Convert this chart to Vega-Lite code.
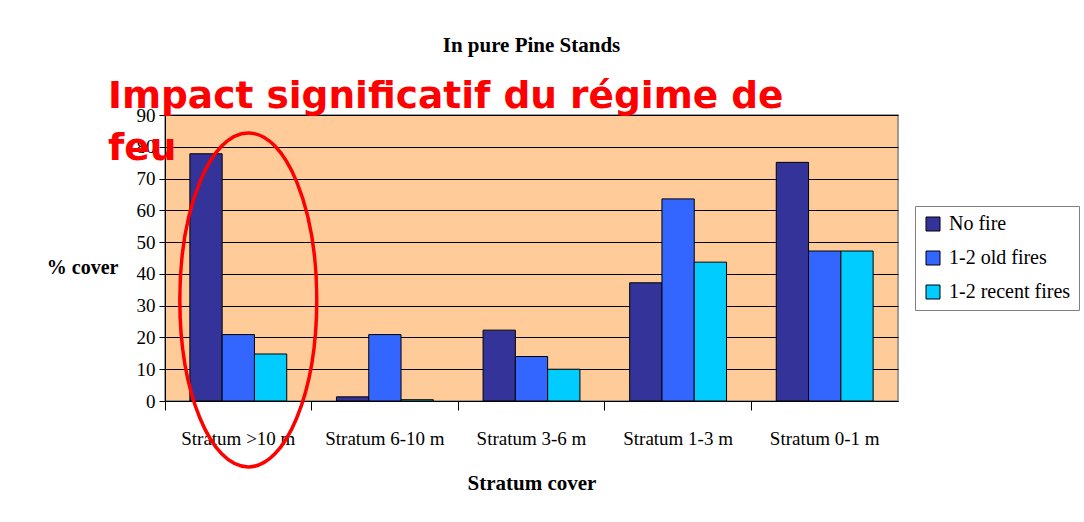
{
  "$schema": "https://vega.github.io/schema/vega-lite/v6.json",
  "width": 733,
  "height": 286,
  "autosize": {"type": "none"},
  "padding": {"left": 165, "top": 115, "right": 186, "bottom": 121},
  "background": "white",
  "title": {"text": "In pure Pine Stands", "font": "Liberation Serif", "fontSize": 21, "fontWeight": "bold", "color": "black", "anchor": "middle", "frame": "group", "offset": 22},
  "config": {
    "font": "Liberation Serif",
    "view": {"fill": "#FFCC99", "stroke": "#808080", "strokeWidth": 1.5},
    "legend": {"labelFont": "Liberation Serif", "labelFontSize": 20, "labelColor": "black"},
    "axisY": {"values": [0, 10, 20, 30, 40, 50, 60, 70, 80, 90], "titleAngle": 0, "titleAlign": "right", "titleBaseline": "middle", "titleX": -47, "titleY": 152,
              "titleFont": "Liberation Serif", "titleFontSize": 20, "titleFontWeight": "bold", "titleColor": "black",
              "labelFont": "Liberation Serif", "labelFontSize": 19, "labelColor": "black", "labelPadding": 4,
              "tickSize": 6, "tickColor": "black", "domainColor": "black", "grid": true, "gridColor": "black", "gridWidth": 1, "gridOpacity": 1}
  },
  "layer": [
    {
      "data": {"values": [
        {"stratum": "Stratum >10 m", "fire": "No fire", "cover": 77.8},
        {"stratum": "Stratum >10 m", "fire": "1-2 old fires", "cover": 20.9},
        {"stratum": "Stratum >10 m", "fire": "1-2 recent fires", "cover": 14.8},
        {"stratum": "Stratum 6-10 m", "fire": "No fire", "cover": 1.3},
        {"stratum": "Stratum 6-10 m", "fire": "1-2 old fires", "cover": 20.9},
        {"stratum": "Stratum 6-10 m", "fire": "1-2 recent fires", "cover": 0.4},
        {"stratum": "Stratum 3-6 m", "fire": "No fire", "cover": 22.3},
        {"stratum": "Stratum 3-6 m", "fire": "1-2 old fires", "cover": 14.0},
        {"stratum": "Stratum 3-6 m", "fire": "1-2 recent fires", "cover": 10.0},
        {"stratum": "Stratum 1-3 m", "fire": "No fire", "cover": 37.2},
        {"stratum": "Stratum 1-3 m", "fire": "1-2 old fires", "cover": 63.6},
        {"stratum": "Stratum 1-3 m", "fire": "1-2 recent fires", "cover": 43.7},
        {"stratum": "Stratum 0-1 m", "fire": "No fire", "cover": 75.1},
        {"stratum": "Stratum 0-1 m", "fire": "1-2 old fires", "cover": 47.2},
        {"stratum": "Stratum 0-1 m", "fire": "1-2 recent fires", "cover": 47.2}
      ]},
      "mark": {"type": "bar", "stroke": "black", "strokeWidth": 1},
      "encoding": {
        "x": {
          "field": "stratum", "type": "nominal",
          "sort": ["Stratum >10 m", "Stratum 6-10 m", "Stratum 3-6 m", "Stratum 1-3 m", "Stratum 0-1 m"],
          "scale": {"paddingInner": 0, "paddingOuter": 0},
          "axis": {"orient": "bottom", "title": "Stratum cover", "titleFont": "Liberation Serif", "titleFontSize": 21, "titleFontWeight": "bold", "titleColor": "black", "titlePadding": 24,
                   "labelFont": "Liberation Serif", "labelFontSize": 19, "labelColor": "black", "labelAngle": 0, "labelPadding": 28, "labelLimit": 0,
                   "ticks": false, "domain": true, "domainColor": "black", "domainWidth": 1, "grid": false}
        },
        "xOffset": {"field": "fire", "type": "nominal", "sort": ["No fire", "1-2 old fires", "1-2 recent fires"], "scale": {"paddingInner": 0, "paddingOuter": 0.77}},
        "y": {
          "field": "cover", "type": "quantitative",
          "scale": {"domain": [0, 90], "nice": false},
          "axis": {"title": "% cover"}
        },
        "color": {
          "field": "fire", "type": "nominal",
          "scale": {"domain": ["No fire", "1-2 old fires", "1-2 recent fires"], "range": ["#333399", "#3366FF", "#00CCFF"]},
          "legend": {"title": null, "orient": "none", "legendX": 750, "legendY": 91, "padding": 8, "strokeColor": "#808080", "fillColor": "white",
                     "symbolType": "square", "symbolSize": 196, "symbolStrokeColor": "black", "symbolStrokeWidth": 1, "symbolOpacity": 1,
                     "labelFont": "Liberation Serif", "labelFontSize": 20, "labelColor": "black", "rowPadding": 14, "labelOffset": 6, "labelLimit": 0}
        }
      }
    },
    {
      "data": {"values": [{"stratum": "Stratum >10 m", "cover": 31.8}]},
      "mark": {"type": "point", "shape": "M -0.41 0 A 0.41 1 0 1 0 0.41 0 A 0.41 1 0 1 0 -0.41 0 Z", "size": 111556, "filled": false, "stroke": "#FF0000", "strokeWidth": 3.5, "opacity": 1, "xOffset": 10},
      "encoding": {
        "x": {"field": "stratum", "type": "nominal",
              "sort": ["Stratum >10 m", "Stratum 6-10 m", "Stratum 3-6 m", "Stratum 1-3 m", "Stratum 0-1 m"],
              "axis": {"orient": "bottom", "bandPosition": 0, "labels": false, "domain": false, "ticks": true, "tickSize": 9, "tickColor": "black", "title": null, "grid": false}},
        "y": {"field": "cover", "type": "quantitative", "scale": {"domain": [0, 90], "nice": false}, "axis": {"title": "% cover"}}
      }
    },
    {
      "data": {"values": [{"stratum": "Stratum >10 m", "cover": 92.2, "note": "Impact significatif du régime de\nfeu"}]},
      "mark": {"type": "text", "font": "DejaVu Sans", "fontWeight": "bold", "fontSize": 37.5, "color": "#FF0000", "align": "left", "baseline": "alphabetic", "lineBreak": "\n", "lineHeight": 52, "dx": -57},
      "encoding": {
        "x": {"field": "stratum", "type": "nominal", "bandPosition": 0,
              "sort": ["Stratum >10 m", "Stratum 6-10 m", "Stratum 3-6 m", "Stratum 1-3 m", "Stratum 0-1 m"], "axis": null},
        "y": {"field": "cover", "type": "quantitative", "scale": {"domain": [0, 90], "nice": false}, "axis": {"title": "% cover"}},
        "text": {"field": "note"}
      }
    }
  ],
  "resolve": {"axis": {"x": "independent"}}
}
